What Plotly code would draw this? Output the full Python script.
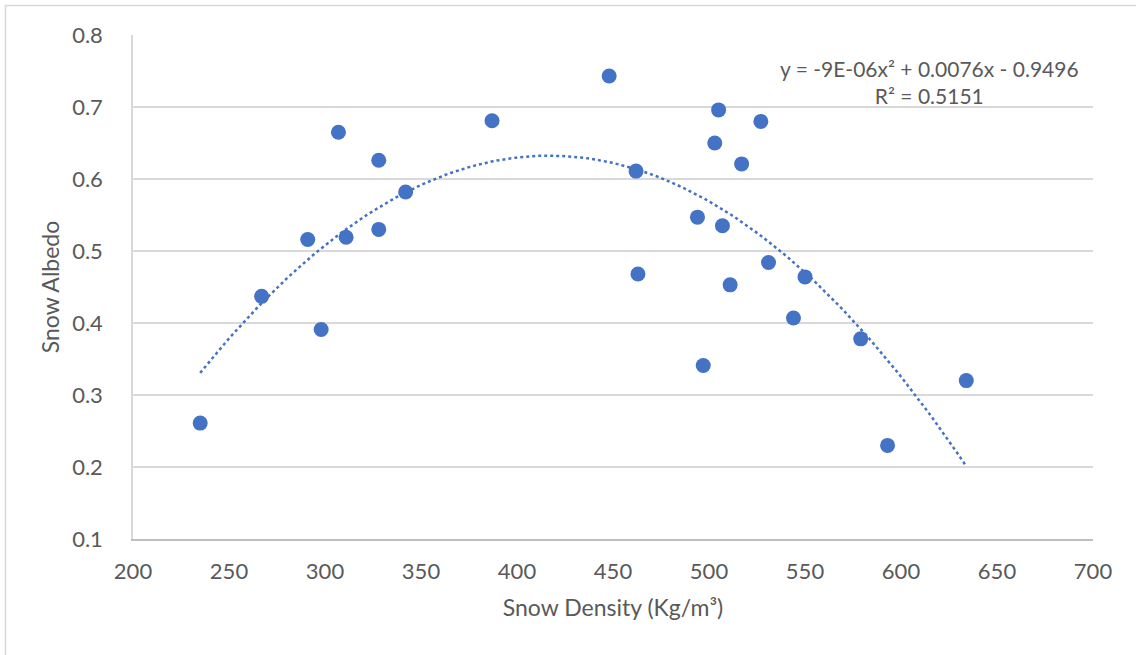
import numpy as np
import plotly.graph_objects as go

density = [235, 267, 291, 298, 307, 311, 328, 328, 342, 387, 448, 462, 463, 494, 497,
           505, 503, 507, 511, 517, 527, 531, 544, 550, 579, 593, 634]
albedo = [0.261, 0.437, 0.516, 0.391, 0.665, 0.519, 0.626, 0.530, 0.582, 0.681, 0.743,
          0.611, 0.468, 0.547, 0.341, 0.696, 0.650, 0.535, 0.453, 0.621, 0.680, 0.484,
          0.407, 0.464, 0.378, 0.230, 0.320]

eq_text = "y = -9E-06x² + 0.0076x - 0.9496<br>R² = 0.5151"

# Polynomial (order 2) trendline fitted to the data
coef = np.polyfit(density, albedo, 2)
xt = np.linspace(min(density), max(density), 200)
yt = np.polyval(coef, xt)

BLUE = "#4472C4"
TXT = "#595959"
FONT = "Lato"

fig = go.Figure()
fig.add_trace(go.Scatter(x=xt, y=yt, mode="lines",
                         line=dict(color=BLUE, width=2.5, dash="dot"),
                         hoverinfo="skip", showlegend=False))
fig.add_trace(go.Scatter(x=density, y=albedo, mode="markers",
                         marker=dict(color=BLUE, size=15, line=dict(width=0)),
                         showlegend=False))

fig.update_layout(
    width=1136, height=655,
    margin=dict(l=133, r=43, t=35, b=116),
    paper_bgcolor="white", plot_bgcolor="white",
    font=dict(family=FONT, size=22, color=TXT),
    xaxis=dict(range=[200, 700], dtick=50, tick0=200, showgrid=False,
               showline=True, linecolor="#bfbfbf", linewidth=1.5,
               zeroline=False, ticks="", ticklabelstandoff=12,
               title=dict(text="Snow Density (Kg/m³)", standoff=17,
                          font=dict(size=23, color=TXT))),
    yaxis=dict(range=[0.1, 0.8], dtick=0.1, tick0=0.1, showgrid=True,
               gridcolor="#d9d9d9", gridwidth=1.5,
               showline=True, linecolor="#d9d9d9", linewidth=1.5,
               zeroline=False, ticks="", ticklabelstandoff=24,
               tickformat=".1f",
               title=dict(text="Snow Albedo", standoff=6,
                          font=dict(size=23, color=TXT))),
)

fig.add_annotation(xref="paper", yref="paper", x=(929 - 133) / 960, y=(539 - 82) / 504,
                   text=eq_text, showarrow=False, align="center",
                   font=dict(family=FONT, size=21, color=TXT),
                   xanchor="center", yanchor="middle")

fig.add_shape(type="rect", xref="paper", yref="paper",
              x0=(5.5 - 133) / 960, x1=(1145 - 133) / 960,
              y0=(539 - 665) / 504, y1=(539 - 5.5) / 504,
              line=dict(color="#d9d9d9", width=1.5), layer="below")

fig.write_html("out.html", config={"displayModeBar": False},
               post_script="document.body.style.margin='0';")
